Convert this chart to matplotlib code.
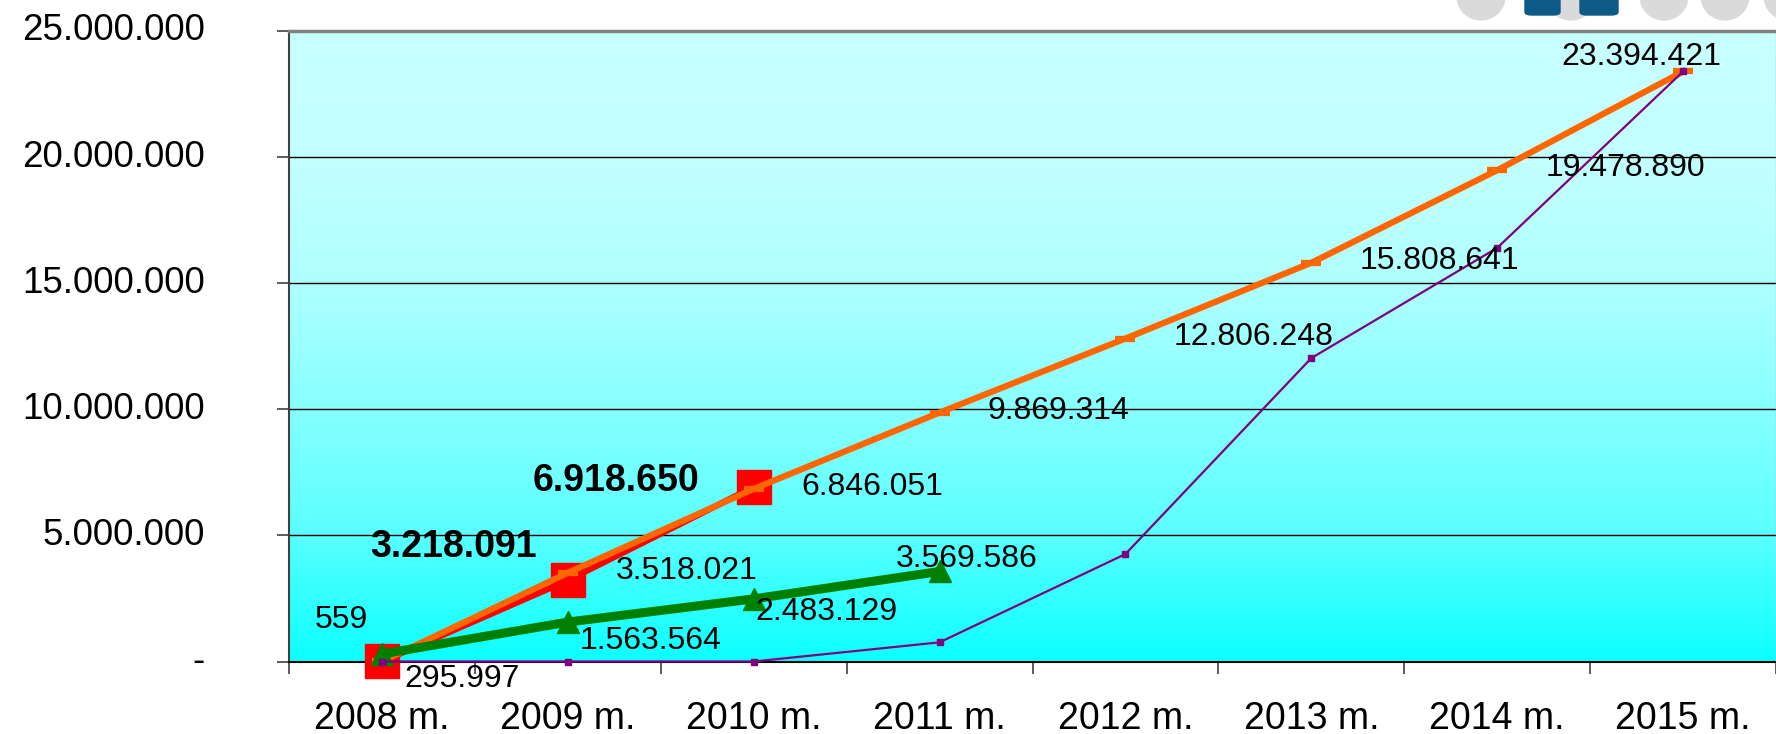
import matplotlib
matplotlib.use('Agg')
import matplotlib.pyplot as plt
import numpy as np
from matplotlib.colors import LinearSegmentedColormap
from matplotlib.patches import Ellipse, FancyBboxPatch
from matplotlib.ticker import FuncFormatter, FixedLocator

plt.rcParams['font.family'] = ['Liberation Sans', 'DejaVu Sans']

# duomenys
years = ['2008 m.', '2009 m.', '2010 m.', '2011 m.', '2012 m.', '2013 m.', '2014 m.', '2015 m.']
orange_vals = [559, 3518021, 6846051, 9869314, 12806248, 15808641, 19478890, 23394421]
red_vals = [559, 3218091, 6918650]
green_vals = [295997, 1563564, 2483129, 3569586]
purple_vals = [0, 0, 0, 760000, 4260000, 12030000, 16400000, 23394421]


def fmt(v):
    return f'{v:,}'.replace(',', '.')


fig = plt.figure(figsize=(17.76, 7.34), dpi=100)
ax = fig.add_axes([289 / 1776, 1 - 661.5 / 734, 1 - 289 / 1776, (661.5 - 31) / 734])

# fonas - gradientas
cmap = LinearSegmentedColormap.from_list('bg', [
    (0.0, '#0cffff'), (0.2, '#5affff'), (0.4, '#87ffff'),
    (0.6, '#afffff'), (0.8, '#c3ffff'), (1.0, '#c8ffff')])
grad = np.linspace(0, 1, 256).reshape(-1, 1)
ax.imshow(grad, cmap=cmap, origin='lower', aspect='auto',
          extent=(-0.5, 7.5, 0, 25000000), zorder=0)

x = np.arange(len(years))
ax.plot(x[:3], red_vals, color='#ff0000', lw=4.5, marker='s', ms=24, zorder=3, clip_on=False)
ax.plot(x, orange_vals, color='#ff6600', lw=4.5, marker='_', ms=14, mew=4.5, zorder=4, clip_on=False)
ax.plot(x[:4], green_vals, color='#008000', lw=6.5, marker='^', ms=16, zorder=5, clip_on=False)
ax.plot(x, purple_vals, color='#800080', lw=1.6, marker='s', ms=5, zorder=6, clip_on=False)

# etiketės
lab = dict(textcoords='offset pixels', va='center', fontsize=23, zorder=7)
for i, v in enumerate(orange_vals):
    if i == 0:
        ax.annotate(fmt(v), (i, v), xytext=(-14, 41), ha='right', **lab)
    elif i == 7:
        ax.annotate(fmt(v), (i, v), xytext=(-42, 14), ha='center', **lab)
    else:
        ax.annotate(fmt(v), (i, v), xytext=(48, 2), ha='left', **lab)

red_off = [None, (-31, 33), (-54, 6)]
for i, v in enumerate(red_vals):
    if red_off[i] is not None:
        ax.annotate(fmt(v), (i, v), xytext=red_off[i], ha='right', fontweight='bold',
                    **{**lab, 'fontsize': 27})

green_off = [(22, -25), (12, -19), (2, -13), (-44, 12)]
for i, v in enumerate(green_vals):
    ax.annotate(fmt(v), (i, v), xytext=green_off[i], ha='left', **lab)

# ašys
ax.set_xlim(-0.5, 7.5)
ax.set_ylim(0, 25000000)
ax.set_yticks(np.arange(0, 25000001, 5000000))
ax.yaxis.set_major_formatter(FuncFormatter(lambda v, p: '-' if v == 0 else fmt(int(v))))
ax.set_xticks(x)
ax.set_xticklabels(years)
ax.xaxis.set_minor_locator(FixedLocator(np.arange(-0.5, 8, 1)))
ax.tick_params(axis='y', length=8.6, width=1.2, color='#404040', pad=52, labelsize=26.5)
ax.tick_params(axis='x', which='major', length=0, pad=28.5, labelsize=27)
ax.tick_params(axis='x', which='minor', length=8.6, width=1.2, color='#404040')
for t in ax.get_yticklabels():
    t.set_verticalalignment('center')

ax.set_axisbelow(True)
ax.yaxis.grid(True, color='black', lw=1)

ax.spines['left'].set_color('#404040')
ax.spines['left'].set_linewidth(1.5)
ax.spines['top'].set_color('#808080')
ax.spines['top'].set_linewidth(2.5)
ax.spines['right'].set_color('#c0c0c0')
ax.spines['right'].set_linewidth(1)
ax.spines['bottom'].set_color('black')
ax.spines['bottom'].set_linewidth(1.5)

# logotipo fragmentas viršuje dešinėje
for cx in [1481, 1571, 1664, 1725, 1788]:
    fig.patches.append(Ellipse((cx / 1776, 1 + 4 / 734), 48 / 1776, 48 / 734,
                               transform=fig.transFigure, color='#dadada', zorder=1))
for x0, w in [(1525, 35), (1580, 38)]:
    fig.patches.append(FancyBboxPatch((x0 / 1776, 1 - 15 / 734), w / 1776, 25 / 734,
                                      boxstyle='round,pad=0,rounding_size=0.004',
                                      transform=fig.transFigure, color='#0d5a86', zorder=2))

plt.savefig('out.png', dpi=100)
